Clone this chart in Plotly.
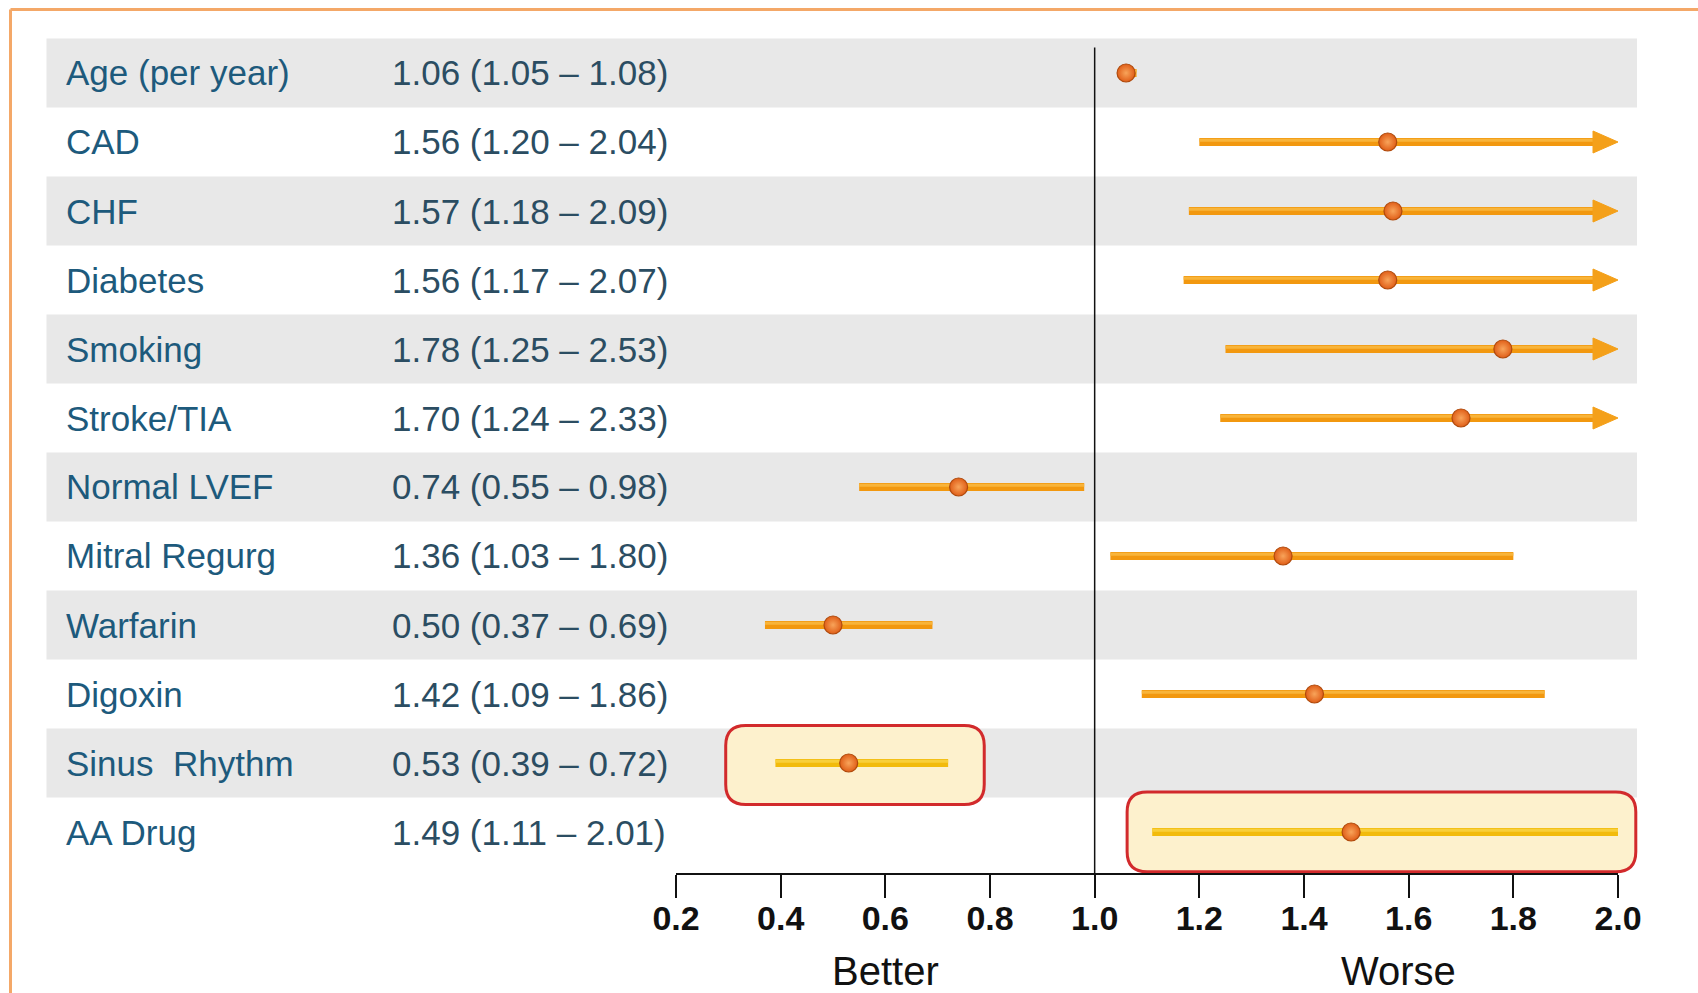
import plotly.graph_objects as go

# ---------------- data ----------------
labels = ["Age (per year)", "CAD", "CHF", "Diabetes", "Smoking", "Stroke/TIA",
          "Normal LVEF", "Mitral Regurg", "Warfarin", "Digoxin", "Sinus  Rhythm", "AA Drug"]
hr = [1.06, 1.56, 1.57, 1.56, 1.78, 1.70, 0.74, 1.36, 0.50, 1.42, 0.53, 1.49]
ci_lo = [1.05, 1.20, 1.18, 1.17, 1.25, 1.24, 0.55, 1.03, 0.37, 1.09, 0.39, 1.11]
ci_hi = [1.08, 2.04, 2.09, 2.07, 2.53, 2.33, 0.98, 1.80, 0.69, 1.86, 0.72, 2.01]
arrow = [False, True, True, True, True, True, False, False, False, False, False, False]
highlight_rows = ["Sinus  Rhythm", "AA Drug"]
highlight_x0 = [0.295, 1.062]
highlight_x1 = [0.789, 2.034]
tick_vals = [0.2, 0.4, 0.6, 0.8, 1.0, 1.2, 1.4, 1.6, 1.8, 2.0]
tick_text = ["0.2", "0.4", "0.6", "0.8", "1.0", "1.2", "1.4", "1.6", "1.8", "2.0"]
X_MIN, X_MAX, NULL_VALUE = 0.2, 2.0, 1.0
direction_labels = ["Better", "Worse"]
direction_x = [0.6, 1.58]

# ---------------- geometry (pixels) ----------------
W, H = 1698, 993
X0_PX, X1_PX = 676, 1618
PLOT_BOTTOM_PX = 873
ROW0_PX, ROW_H = 73, 69
BAND_X0_PX, BAND_X1_PX = 46.5, 1637

FONT = "Liberation Sans, Arial, sans-serif"
LABEL_COLOR = "#1d5a7c"
NUM_COLOR = "#2b4d62"

dom_x = [X0_PX / W, X1_PX / W]
dom_y = [(H - PLOT_BOTTOM_PX) / H, 1.0]
y_range = [(PLOT_BOTTOM_PX - ROW0_PX) / ROW_H, (0 - ROW0_PX) / ROW_H]


def xp(x):  # data x -> paper
    return dom_x[0] + (x - X_MIN) / (X_MAX - X_MIN) * (dom_x[1] - dom_x[0])


def yp(y):  # row units -> paper
    px = ROW0_PX + y * ROW_H
    return (H - px) / H


n = len(labels)
rows = list(range(n))
px_per_x = (X1_PX - X0_PX) / (X_MAX - X_MIN)
head_dx = 25 / px_per_x
head_dy = 11 / ROW_H
hl_dy = 1.8 / ROW_H

fig = go.Figure()
shapes = []
annotations = []

# alternating bands
for i in rows:
    if i % 2 == 0:
        shapes.append(dict(type="rect", xref="paper", yref="paper",
                           x0=BAND_X0_PX / W, x1=BAND_X1_PX / W,
                           y0=yp(i + 0.5), y1=yp(i - 0.5),
                           fillcolor="#e8e8e8", line=dict(width=0), layer="below"))

# highlight rounded boxes
for lab, bx0, bx1 in zip(highlight_rows, highlight_x0, highlight_x1):
    i = labels.index(lab)
    r = 20 / H
    rx = 20 / W
    if lab == "Sinus  Rhythm":
        top, bot = yp(i - 0.545), yp(i + 0.6)
    else:
        top, bot = yp(i - 0.58), yp(i + 0.575)
    L, R = xp(bx0), xp(bx1)
    path = (f"M{L+rx},{top} L{R-rx},{top} Q{R},{top} {R},{top-r} "
            f"L{R},{bot+r} Q{R},{bot} {R-rx},{bot} L{L+rx},{bot} "
            f"Q{L},{bot} {L},{bot+r} L{L},{top-r} Q{L},{top} {L+rx},{top} Z")
    shapes.append(dict(type="path", xref="paper", yref="paper", path=path,
                       fillcolor="#fdf1cd", line=dict(color="#d22a2c", width=3),
                       layer="below"))

# null line at 1.0
shapes.append(dict(type="line", xref="paper", yref="paper",
                   x0=xp(NULL_VALUE), x1=xp(NULL_VALUE),
                   y0=dom_y[0], y1=yp(-0.37),
                   line=dict(color="#111111", width=1.5), layer="below"))

# orange frame (top and left edges visible)
shapes.append(dict(type="line", xref="paper", yref="paper",
                   x0=10.5 / W, x1=1.0, y0=(H - 9.5) / H, y1=(H - 9.5) / H,
                   line=dict(color="#f4a868", width=3)))
shapes.append(dict(type="line", xref="paper", yref="paper",
                   x0=10.5 / W, x1=10.5 / W, y0=0.0, y1=(H - 9.5) / H,
                   line=dict(color="#f4a868", width=3)))

# CI lines
for i in rows:
    if labels[i] in highlight_rows:
        base, light = "#f2bb0c", "#f8cf3a"
    else:
        base, light = "#f2980f", "#f8b43a"
    end = min(ci_hi[i], X_MAX)
    if arrow[i]:
        end = X_MAX - head_dx + 0.005
    fig.add_trace(go.Scatter(x=[ci_lo[i], end], y=[i, i], mode="lines",
                             line=dict(color=base, width=8),
                             hoverinfo="skip", showlegend=False))
    fig.add_trace(go.Scatter(x=[ci_lo[i], end], y=[i - hl_dy, i - hl_dy], mode="lines",
                             line=dict(color=light, width=3),
                             hoverinfo="skip", showlegend=False))
    if arrow[i]:
        fig.add_trace(go.Scatter(
            x=[X_MAX - head_dx, X_MAX, X_MAX - head_dx, X_MAX - head_dx],
            y=[i - head_dy, i, i + head_dy, i - head_dy],
            mode="lines", fill="toself", fillcolor="#f4a01a",
            line=dict(color="#f4a01a", width=1),
            hoverinfo="skip", showlegend=False))

# point estimates
fig.add_trace(go.Scatter(
    x=hr, y=rows, mode="markers",
    marker=dict(size=18, color="#e05e18",
                gradient=dict(type="radial", color="#f8a45a"),
                line=dict(color="#b04a0c", width=1.2)),
    hovertext=labels, showlegend=False))

# row texts
for i in rows:
    annotations.append(dict(xref="paper", yref="paper", x=64 / W, y=yp(i),
                            xanchor="left", yanchor="middle", showarrow=False,
                            text=labels[i],
                            font=dict(family=FONT, size=35, color=LABEL_COLOR)))
    annotations.append(dict(xref="paper", yref="paper", x=390 / W, y=yp(i),
                            xanchor="left", yanchor="middle", showarrow=False,
                            text=f"{hr[i]:.2f} ({ci_lo[i]:.2f} \u2013 {ci_hi[i]:.2f})",
                            font=dict(family=FONT, size=35, color=NUM_COLOR)))

for t, xv in zip(direction_labels, direction_x):
    annotations.append(dict(xref="x", yref="paper", x=xv, y=(H - 971) / H,
                            xanchor="center", yanchor="middle", showarrow=False,
                            text=t, font=dict(family=FONT, size=40, color="#111111")))

fig.update_layout(
    template="none",
    width=W, height=H, autosize=False,
    margin=dict(l=0, r=0, t=0, b=0, pad=0, autoexpand=False),
    paper_bgcolor="white", plot_bgcolor="rgba(0,0,0,0)",
    shapes=shapes, annotations=annotations,
    xaxis=dict(domain=dom_x, range=[X_MIN, X_MAX], showgrid=False, zeroline=False,
               showline=True, linecolor="#111111", linewidth=1.5,
               ticks="outside", ticklen=23, tickwidth=1.5, tickcolor="#111111",
               tickvals=tick_vals, ticktext=tick_text, ticklabelstandoff=-9,
               tickfont=dict(family=FONT, size=34, color="#111111", weight="bold"),
               automargin=False, fixedrange=True),
    yaxis=dict(domain=dom_y, range=y_range, visible=False, automargin=False,
               fixedrange=True),
    showlegend=False,
)

fig.write_html("out.html", config={"responsive": False, "displayModeBar": False},
               post_script="document.body.style.margin='0';document.body.style.overflow='hidden';")
